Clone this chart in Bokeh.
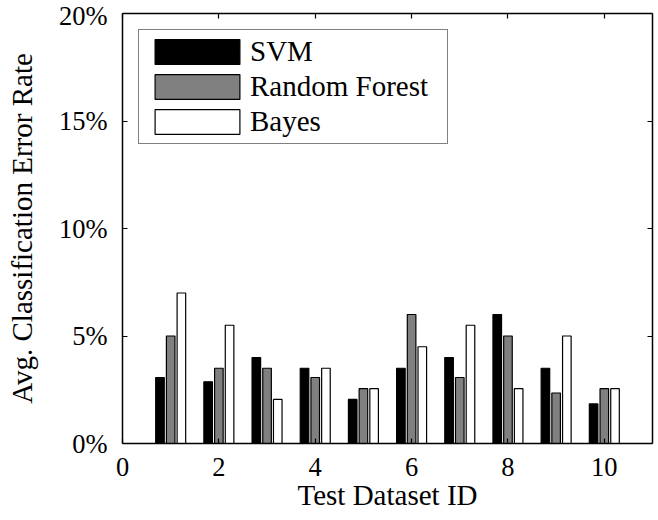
from bokeh.plotting import figure
from bokeh.models import Range1d, FixedTicker, LinearAxis, Legend, LegendItem, ColumnDataSource
from bokeh.embed import file_html
from bokeh.resources import INLINE

# ---- data ----
dataset_ids = [1, 2, 3, 4, 5, 6, 7, 8, 9, 10]
svm = [3.07, 2.87, 4.0, 3.5, 2.05, 3.5, 4.0, 6.0, 3.5, 1.84]
random_forest = [5.0, 3.5, 3.5, 3.07, 2.55, 6.0, 3.07, 5.0, 2.35, 2.55]
bayes = [7.0, 5.5, 2.05, 3.5, 2.55, 4.5, 5.5, 2.55, 5.0, 2.55]
series_names = ["SVM", "Random Forest", "Bayes"]
x_ticks = [0, 2, 4, 6, 8, 10]
y_ticks = [0, 5, 10, 15, 20]
y_tick_labels = ["0%", "5%", "10%", "15%", "20%"]

# ---- styles ----
FONT = "Liberation Serif"
TICK_SIZE = "26.5px"
LABEL_SIZE = "29px"
colors = ["#000000", "#808080", "#ffffff"]
offsets = [-0.2222, 0.0, 0.2222]
bar_width = 0.178

p = figure(width=658, height=520, x_range=Range1d(0, 11), y_range=Range1d(0, 20),
           output_backend="svg", toolbar_location=None, title=None,
           min_border_left=122, min_border_right=6, min_border_top=13, min_border_bottom=77)
p.xgrid.grid_line_color = None
p.ygrid.grid_line_color = None
p.outline_line_color = None
p.background_fill_color = "white"
p.border_fill_color = "white"

renderers = []
for name, vals, col, off in zip(series_names, [svm, random_forest, bayes], colors, offsets):
    src = ColumnDataSource(dict(x=[d + off for d in dataset_ids], top=vals))
    r = p.vbar(x="x", top="top", width=bar_width, bottom=0, source=src,
               fill_color=col, line_color="black", line_width=1.2)
    renderers.append(r)

def style_axis(ax, ticks, labels=True):
    ax.ticker = FixedTicker(ticks=ticks)
    ax.axis_line_width = 1.5
    ax.axis_line_color = "black"
    ax.major_tick_in = 5
    ax.major_tick_out = 0
    ax.major_tick_line_width = 1.2
    ax.minor_tick_line_color = None
    ax.major_label_text_font = FONT
    if labels:
        ax.major_label_text_font_size = TICK_SIZE
        ax.major_label_text_color = "black"
    else:
        ax.major_label_text_font_size = "0px"
        ax.major_label_text_color = None
        ax.major_label_standoff = 0

xb = p.xaxis[0]
yl = p.yaxis[0]
style_axis(xb, x_ticks)
style_axis(yl, y_ticks)
yl.major_label_overrides = dict(zip(y_ticks, y_tick_labels))
xb.major_label_standoff = 14
yl.major_label_standoff = 15

xb.axis_label = "Test Dataset ID"
yl.axis_label = "Avg. Classification Error Rate"
for ax in (xb, yl):
    ax.axis_label_text_font = FONT
    ax.axis_label_text_font_size = LABEL_SIZE
    ax.axis_label_text_font_style = "normal"
    ax.axis_label_text_color = "black"
xb.axis_label_standoff = 0
yl.axis_label_standoff = 18

top_ax = LinearAxis()
style_axis(top_ax, x_ticks, labels=False)
p.add_layout(top_ax, "above")
right_ax = LinearAxis()
style_axis(right_ax, y_ticks, labels=False)
p.add_layout(right_ax, "right")

legend = Legend(items=[LegendItem(label=n, renderers=[r]) for n, r in zip(series_names, renderers)],
                location="top_left", margin=16, padding=5, spacing=2,
                glyph_width=106, glyph_height=31, label_standoff=0, label_width=192,
                label_text_font=FONT, label_text_font_size=LABEL_SIZE, label_text_color="black",
                border_line_color="black", border_line_width=1.2,
                background_fill_color="white", background_fill_alpha=1.0)
p.add_layout(legend)

open("out.html", "w").write(file_html(p, INLINE))
